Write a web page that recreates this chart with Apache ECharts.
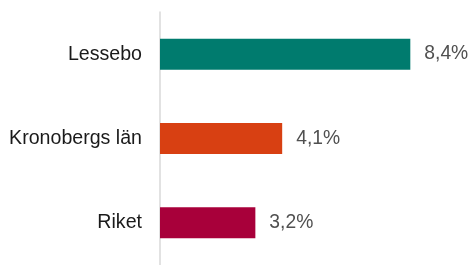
<!DOCTYPE html>
<html>
<head>
<meta charset="utf-8">
<script src="https://cdn.jsdelivr.net/npm/echarts@6/dist/echarts.min.js"></script>
<style>
    html, body { margin: 0; padding: 0; background: #fff; }
    #chart { width: 471px; height: 265px; }
</style>
</head>
<body>
<div id="chart"></div>
<script>
// data
const categories = ['Lessebo', 'Kronobergs län', 'Riket'];
const values = [8.4, 4.1, 3.2];
const barColors = ['#007b6e', '#d84012', '#a8003a'];

let chart = echarts.init(document.getElementById('chart'));
let option = {
    animation: false,
    textStyle: {
        fontFamily: 'Liberation Sans, Arial, sans-serif'
    },
    grid: {
        left: 160,
        top: 12,
        width: 298,
        bottom: -2,
        show: false
    },
    xAxis: {
        type: 'value',
        min: 0,
        max: 10,
        show: false
    },
    yAxis: {
        type: 'category',
        inverse: true,
        data: categories,
        axisTick: { show: false },
        splitLine: { show: false },
        axisLine: {
            show: true,
            lineStyle: { color: '#d9d9d9', width: 1.5 }
        },
        axisLabel: {
            margin: 18,
            color: '#1a1a1a',
            fontSize: 19.6
        }
    },
    series: [{
        type: 'bar',
        barWidth: 31,
        data: values.map((v, i) => ({
            value: v,
            itemStyle: { color: barColors[i] }
        })),
        label: {
            show: true,
            position: 'right',
            distance: 14,
            color: '#505050',
            fontSize: 19.3,
            formatter: p => p.value.toFixed(1).replace('.', ',') + '%'
        }
    }]
};
chart.setOption(option);
</script>
</body>
</html>
